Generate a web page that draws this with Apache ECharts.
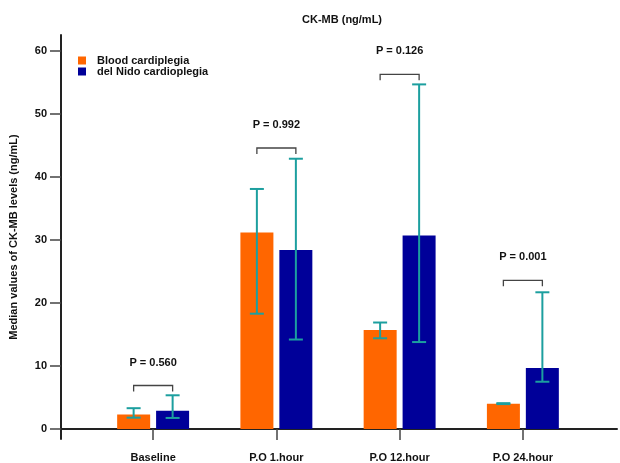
<!DOCTYPE html>
<html>
<head>
<meta charset="utf-8">
<script src="https://cdn.jsdelivr.net/npm/echarts@6/dist/echarts.min.js"></script>
<style>
  html, body { margin: 0; padding: 0; background: #fff; }
  #chart { width: 620px; height: 463px; }
</style>
</head>
<body>
<div id="chart"></div>
<script>
// Time points
const categories = ['Baseline', 'P.O 1.hour', 'P.O 12.hour', 'P.O 24.hour'];

// Median CK-MB (ng/mL) per group
const bloodMedian = [2.3, 31.2, 15.7, 4.0];
const nidoMedian = [2.9, 28.4, 30.7, 9.7];

// Error bar ranges
const bloodLow = [1.8, 18.3, 14.4, 3.95];
const bloodHigh = [3.3, 38.1, 16.9, 4.1];
const nidoLow = [1.75, 14.2, 13.8, 7.5];
const nidoHigh = [5.35, 42.9, 54.7, 21.7];

// Comparison brackets and p-values
const bracketLevel = [6.9, 44.6, 56.3, 23.6];
const pValues = ['P = 0.560', 'P = 0.992', 'P = 0.126', 'P = 0.001'];

// Y-axis tick values
const yTicks = [0, 10, 20, 30, 40, 50, 60];

const Y_MIN = -1.59, Y_MAX = 62.54;
const FONT = 'Liberation Sans, Arial, sans-serif';
const TEAL = '#1c9f9f';
const BAR_SHIFT = 19.5; // half the distance between paired bar centres

function errorBarItem(shiftSign) {
  return function (params, api) {
    const i = api.value(0);
    const lo = api.coord([i, api.value(1)]);
    const hi = api.coord([i, api.value(2)]);
    const x = lo[0] + shiftSign * BAR_SHIFT;
    const cap = 7;
    const style = { stroke: TEAL, lineWidth: 2 };
    return {
      type: 'group',
      children: [
        { type: 'line', shape: { x1: x, y1: hi[1], x2: x, y2: lo[1] }, style },
        { type: 'line', shape: { x1: x - cap, y1: hi[1], x2: x + cap, y2: hi[1] }, style },
        { type: 'line', shape: { x1: x - cap, y1: lo[1], x2: x + cap, y2: lo[1] }, style }
      ]
    };
  };
}

function bracketItem(params, api) {
  const i = api.value(0);
  const p = api.coord([i, api.value(1)]);
  const xl = p[0] - BAR_SHIFT, xr = p[0] + BAR_SHIFT;
  const y = p[1], leg = 6;
  return {
    type: 'group',
    children: [
      {
        type: 'polyline',
        shape: { points: [[xl, y + leg], [xl, y], [xr, y], [xr, y + leg]] },
        style: { stroke: '#444', lineWidth: 1.3, fill: null }
      },
      {
        type: 'text',
        x: p[0], y: y - 23,
        style: {
          text: pValues[params.dataIndex],
          font: 'bold 11px ' + FONT,
          fill: '#111',
          align: 'center',
          verticalAlign: 'middle'
        }
      }
    ]
  };
}

const chart = echarts.init(document.getElementById('chart'));
chart.setOption({
  animation: false,
  backgroundColor: '#fff',
  title: {
    text: 'CK-MB (ng/mL)',
    left: 297, top: 9,
    textStyle: { fontFamily: FONT, fontSize: 11, fontWeight: 'bold', color: '#111' }
  },
  legend: {
    orient: 'vertical',
    left: 73, top: 50,
    itemWidth: 8, itemHeight: 8, itemGap: 0,
    icon: 'rect',
    data: ['Blood cardiplegia', 'del Nido cardioplegia'],
    textStyle: { fontFamily: FONT, fontSize: 11, fontWeight: 'bold', color: '#111', lineHeight: 11, padding: [0, 0, 0, 6] }
  },
  grid: [
    { left: 58, right: 3, top: 35, bottom: 24 },
    { left: 91.5, right: 35.5, top: 35, bottom: 24 }
  ],
  xAxis: [
    {
      gridIndex: 0, type: 'value', min: 0, max: 1,
      axisLine: { show: true, lineStyle: { color: '#222', width: 2 } },
      axisTick: { show: false }, axisLabel: { show: false }, splitLine: { show: false }
    },
    {
      gridIndex: 1, type: 'category', data: categories,
      axisLine: { show: false },
      axisTick: { show: true, alignWithLabel: true, length: 11, lineStyle: { color: '#444', width: 1.5 } },
      axisLabel: { margin: 13, fontFamily: FONT, fontSize: 11, fontWeight: 'bold', color: '#111' },
      splitLine: { show: false }
    }
  ],
  yAxis: [
    {
      gridIndex: 0, type: 'value', min: Y_MIN, max: Y_MAX,
      name: 'Median values of CK-MB levels (ng/mL)',
      nameLocation: 'middle', nameRotate: 90, nameGap: 42,
      nameTextStyle: { fontFamily: FONT, fontSize: 11, fontWeight: 'bold', color: '#111' },
      axisLine: { show: true, lineStyle: { color: '#222', width: 2 } },
      axisTick: { show: true, inside: false, length: 11, customValues: yTicks, lineStyle: { color: '#444', width: 1.5 } },
      axisLabel: { margin: 14, customValues: yTicks, fontFamily: FONT, fontSize: 11, fontWeight: 'bold', color: '#111' },
      splitLine: { show: false }
    },
    {
      gridIndex: 1, type: 'value', min: Y_MIN, max: Y_MAX, show: false
    }
  ],
  series: [
    {
      name: 'Blood cardiplegia', type: 'bar',
      xAxisIndex: 1, yAxisIndex: 1,
      data: bloodMedian, barWidth: 33, barGap: '18%',
      itemStyle: { color: '#ff6600' }
    },
    {
      name: 'del Nido cardioplegia', type: 'bar',
      xAxisIndex: 1, yAxisIndex: 1,
      data: nidoMedian, barWidth: 33, barGap: '18%',
      itemStyle: { color: '#000099' }
    },
    {
      type: 'custom', xAxisIndex: 1, yAxisIndex: 1, z: 5,
      renderItem: errorBarItem(-1),
      data: categories.map((c, i) => [i, bloodLow[i], bloodHigh[i]])
    },
    {
      type: 'custom', xAxisIndex: 1, yAxisIndex: 1, z: 5,
      renderItem: errorBarItem(1),
      data: categories.map((c, i) => [i, nidoLow[i], nidoHigh[i]])
    },
    {
      type: 'custom', xAxisIndex: 1, yAxisIndex: 1, z: 5,
      renderItem: bracketItem,
      data: categories.map((c, i) => [i, bracketLevel[i]])
    }
  ]
});
</script>
</body>
</html>
